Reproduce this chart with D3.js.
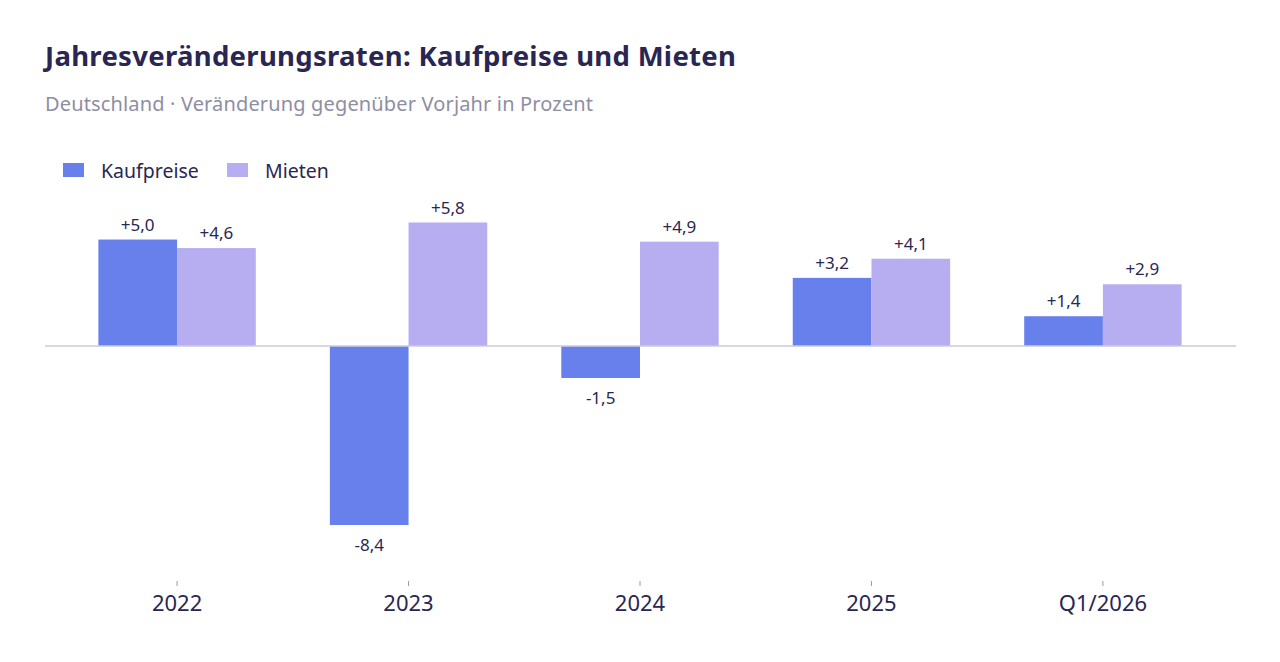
<!DOCTYPE html>
<html lang="de">
<head>
<meta charset="utf-8">
<script src="https://cdn.jsdelivr.net/npm/d3@7"></script>
<style>
  body { margin: 0; background: #fff; font-family: "Noto Sans", "Open Sans", sans-serif; }
</style>
</head>
<body>
<div id="chart"></div>
<script>
// data
var categories = ["2022", "2023", "2024", "2025", "Q1/2026"];
var seriesNames = ["Kaufpreise", "Mieten"];
var kaufpreise = [5.0, -8.4, -1.5, 3.2, 1.4];
var mieten = [4.6, 5.8, 4.9, 4.1, 2.9];
var colors = ["#6880ec", "#b7aef1"];

var width = 1280, height = 662;
var font = "Noto Sans, Open Sans, sans-serif";

var svg = d3.select("#chart").append("svg")
    .attr("width", width)
    .attr("height", height)
    .attr("font-family", font);

// title + subtitle
svg.append("text")
    .attr("x", 45).attr("y", 66)
    .attr("font-size", 27.5).attr("font-weight", 700)
    .attr("letter-spacing", 0.3)
    .attr("fill", "#2a2652")
    .text("Jahresveränderungsraten: Kaufpreise und Mieten");

svg.append("text")
    .attr("x", 45).attr("y", 111)
    .attr("font-size", 20).attr("fill", "#8e8ea3")
    .attr("letter-spacing", 0.15)
    .text("Deutschland · Veränderung gegenüber Vorjahr in Prozent");

// legend
var legend = svg.append("g").attr("transform", "translate(63,163)");
var legendX = [0, 164];
seriesNames.forEach(function(name, i) {
    var g = legend.append("g").attr("transform", "translate(" + legendX[i] + ",0)");
    g.append("rect").attr("width", 21).attr("height", 14).attr("fill", colors[i]);
    g.append("text").attr("x", 38).attr("y", 14.5)
        .attr("font-size", 19.5).attr("fill", "#2a2652").text(name);
});

// scales
var x0 = d3.scaleBand()
    .domain(categories)
    .range([44, 1236])
    .paddingInner(0.32)
    .paddingOuter(0.235);

var x1 = d3.scaleBand()
    .domain(seriesNames)
    .range([0, x0.bandwidth()])
    .padding(0);

var y = d3.scaleLinear()
    .domain([-8.4, 5.8])
    .range([525, 222.5]);

var data = categories.map(function(c, i) {
    return { cat: c, values: [
        { key: seriesNames[0], value: kaufpreise[i] },
        { key: seriesNames[1], value: mieten[i] }
    ]};
});

var fmt = function(v) {
    return (v > 0 ? "+" : v < 0 ? "-" : "") + d3.format(".1f")(Math.abs(v)).replace(".", ",");
};

var groups = svg.append("g").selectAll("g")
    .data(data)
    .enter().append("g")
    .attr("transform", d => "translate(" + x0(d.cat) + ",0)");

groups.selectAll("rect")
    .data(d => d.values)
    .enter().append("rect")
    .attr("x", d => x1(d.key))
    .attr("width", x1.bandwidth())
    .attr("y", d => y(Math.max(0, d.value)))
    .attr("height", d => Math.abs(y(d.value) - y(0)))
    .attr("fill", (d, i) => colors[i]);

groups.selectAll("text")
    .data(d => d.values)
    .enter().append("text")
    .attr("x", d => x1(d.key) + x1.bandwidth() / 2)
    .attr("y", d => d.value >= 0 ? y(d.value) - 9 : y(d.value) + 26)
    .attr("text-anchor", "middle")
    .attr("font-size", 17)
    .attr("fill", "#2a2652")
    .text(d => fmt(d.value));

// zero line
svg.append("line")
    .attr("x1", 45).attr("x2", 1236)
    .attr("y1", y(0)).attr("y2", y(0))
    .attr("stroke", "#cbcbdc").attr("stroke-width", 1.5);

// x axis
var xAxis = svg.append("g")
    .attr("transform", "translate(0,581)")
    .call(d3.axisBottom(x0).tickSize(5).tickPadding(9));
xAxis.select(".domain").remove();
xAxis.selectAll(".tick line").attr("stroke", "#9a9aac");
xAxis.selectAll(".tick text")
    .attr("font-size", 22)
    .attr("font-family", font)
    .attr("fill", "#2a2652");
</script>
</body>
</html>
